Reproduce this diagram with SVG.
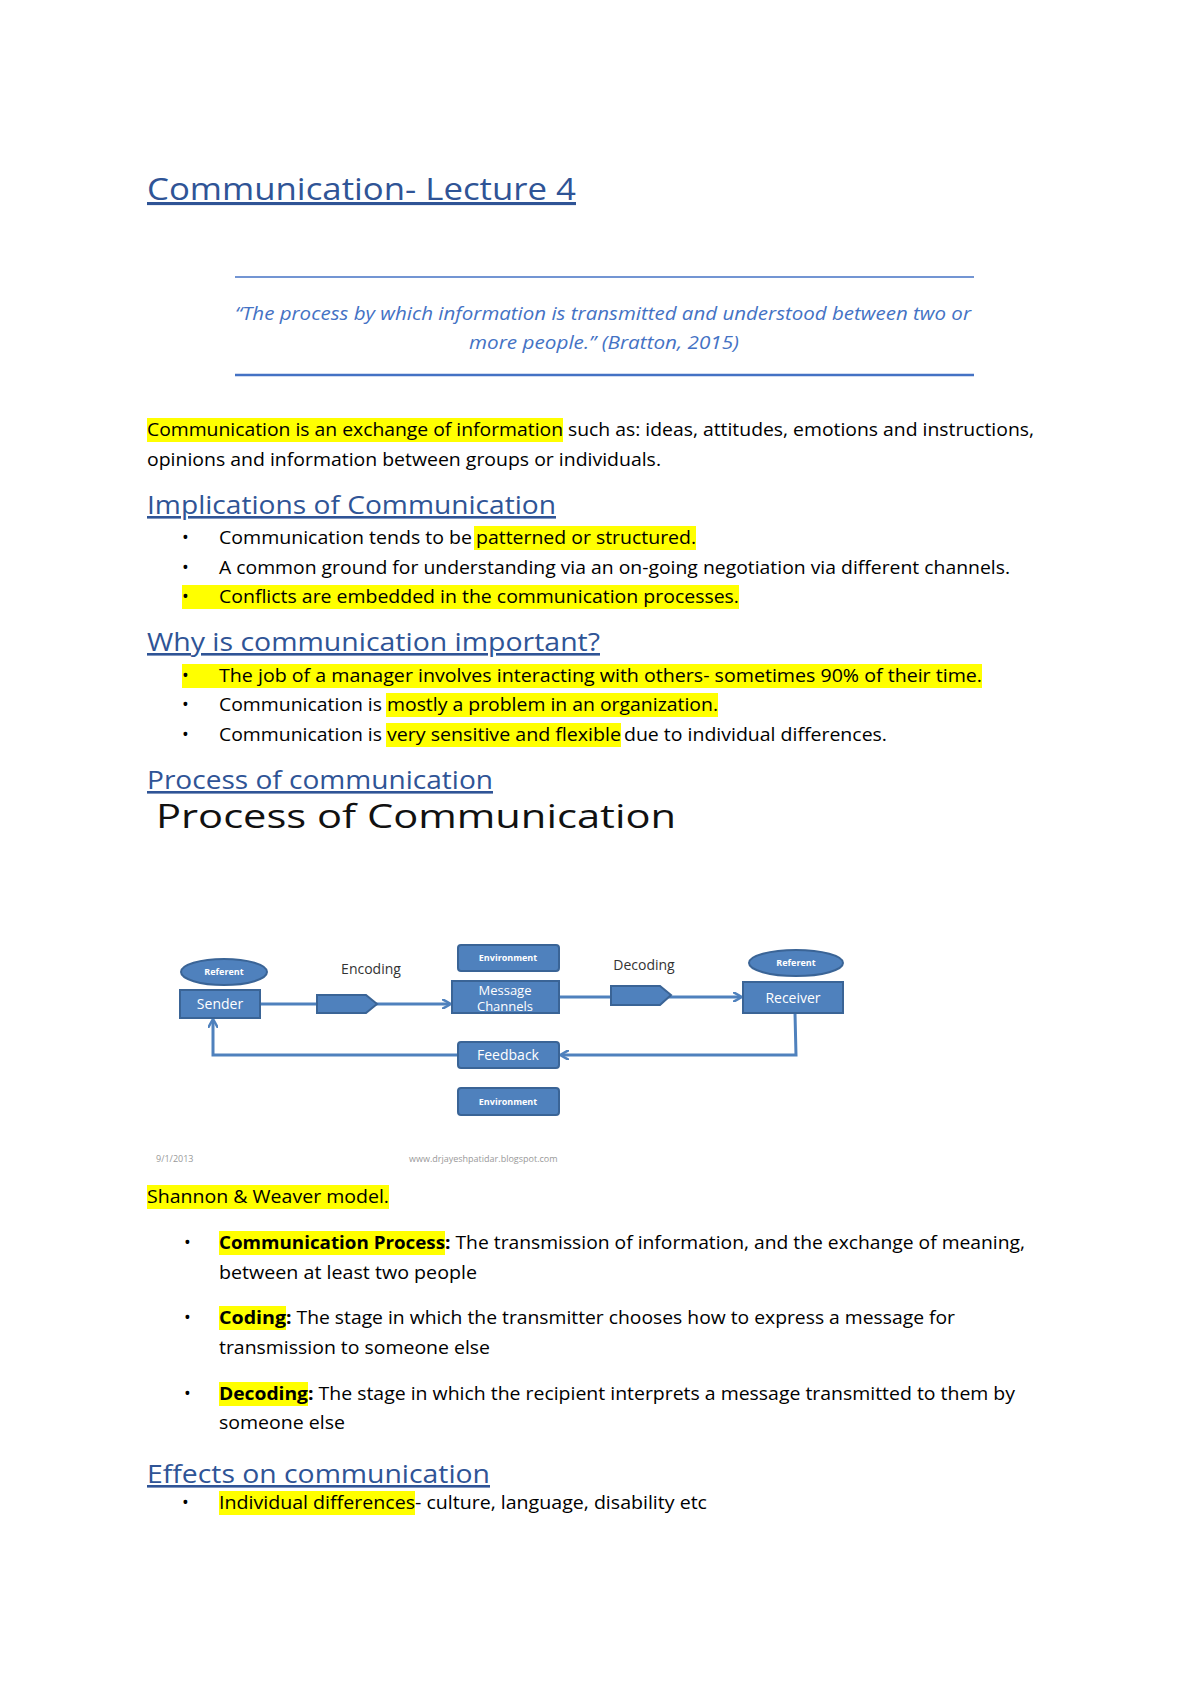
<svg xmlns="http://www.w3.org/2000/svg" width="1200" height="1698" viewBox="0 0 1200 1698">
<style>
text{font-family:"Open Sans","Liberation Sans",sans-serif;}
.b{font-size:18px;fill:#000;}
.h{font-size:26px;fill:#2F5496;text-decoration:underline;}
.q{font-size:18px;fill:#4472C4;font-style:italic;}
.hl{fill:#FFFF00;}
.bx{fill:#4F81BD;stroke:#3A6496;stroke-width:2;}
.bt{fill:#fff;font-size:14px;text-anchor:middle;}
.st{fill:#fff;font-size:9px;font-weight:bold;text-anchor:middle;}
.cn{stroke:#4F81BD;stroke-width:3;fill:none;}
.lbl{font-size:14px;fill:#333;text-anchor:middle;}
</style>
<defs>
<marker id="ah" markerWidth="10" markerHeight="10" refX="8" refY="5" orient="auto" markerUnits="userSpaceOnUse"><path d="M0,0 L9,5 L0,10" fill="none" stroke="#4F81BD" stroke-width="2.5"/></marker>
</defs>
<rect width="1200" height="1698" fill="#fff"/>

<g id="doc-title"><text x="147" y="200" style="font-size:31px;fill:#2F5496;text-decoration:underline" textLength="429" lengthAdjust="spacingAndGlyphs">Communication- Lecture 4</text></g>

<g id="quote">
<line x1="235" y1="277" x2="974" y2="277" stroke="#4472C4" stroke-width="1.5"/>
<text class="q" x="235" y="320" textLength="736" lengthAdjust="spacingAndGlyphs">“The process by which information is transmitted and understood between two or</text>
<text class="q" x="469" y="349" textLength="270" lengthAdjust="spacingAndGlyphs">more people.” (Bratton, 2015)</text>
<line x1="235" y1="375" x2="974" y2="375" stroke="#4472C4" stroke-width="2.5"/>
</g>

<g id="intro">
<rect class="hl" x="147" y="418" width="416" height="24"/>
<text class="b" x="147" y="436" textLength="416" lengthAdjust="spacingAndGlyphs">Communication is an exchange of information</text>
<text class="b" x="568" y="436" textLength="466" lengthAdjust="spacingAndGlyphs">such as: ideas, attitudes, emotions and instructions,</text>
<text class="b" x="147" y="466" textLength="514" lengthAdjust="spacingAndGlyphs">opinions and information between groups or individuals.</text>
</g>

<g id="implications">
<text class="h" x="147" y="514" textLength="409" lengthAdjust="spacingAndGlyphs">Implications of Communication</text>
<text class="b" x="182" y="544">•</text>
<text class="b" x="219" y="544" textLength="253" lengthAdjust="spacingAndGlyphs">Communication tends to be</text>
<rect class="hl" x="474" y="526" width="222" height="24"/>
<text class="b" x="476" y="544" textLength="220" lengthAdjust="spacingAndGlyphs">patterned or structured.</text>
<text class="b" x="182" y="574">•</text>
<text class="b" x="219" y="574" textLength="791" lengthAdjust="spacingAndGlyphs">A common ground for understanding via an on-going negotiation via different channels.</text>
<rect class="hl" x="182" y="585" width="557" height="24"/>
<text class="b" x="182" y="603">•</text>
<text class="b" x="219" y="603" textLength="520" lengthAdjust="spacingAndGlyphs">Conflicts are embedded in the communication processes.</text>
</g>

<g id="why">
<text class="h" x="147" y="651" textLength="453" lengthAdjust="spacingAndGlyphs">Why is communication important?</text>
<rect class="hl" x="182" y="664" width="800" height="24"/>
<text class="b" x="182" y="682">•</text>
<text class="b" x="219" y="682" textLength="763" lengthAdjust="spacingAndGlyphs">The job of a manager involves interacting with others- sometimes 90% of their time.</text>
<text class="b" x="182" y="711">•</text>
<text class="b" x="219" y="711" textLength="163" lengthAdjust="spacingAndGlyphs">Communication is</text>
<rect class="hl" x="386" y="693" width="332" height="24"/>
<text class="b" x="387" y="711" textLength="331" lengthAdjust="spacingAndGlyphs">mostly a problem in an organization.</text>
<text class="b" x="182" y="741">•</text>
<text class="b" x="219" y="741" textLength="163" lengthAdjust="spacingAndGlyphs">Communication is</text>
<rect class="hl" x="386" y="723" width="235" height="24"/>
<text class="b" x="387" y="741" textLength="234" lengthAdjust="spacingAndGlyphs">very sensitive and flexible</text>
<text class="b" x="624" y="741" textLength="263" lengthAdjust="spacingAndGlyphs">due to individual differences.</text>
</g>

<g id="process-heading">
<text class="h" x="147" y="789" textLength="346" lengthAdjust="spacingAndGlyphs">Process of communication</text>
<text x="156" y="828" style="font-size:32px;fill:#111;font-weight:500" textLength="520" lengthAdjust="spacingAndGlyphs">Process of Communication</text>
</g>

<g id="connectors">
<line class="cn" x1="260" y1="1004" x2="450" y2="1004" marker-end="url(#ah)"/>
<line class="cn" x1="559" y1="997" x2="741" y2="997" marker-end="url(#ah)"/>
<polyline class="cn" points="795,1013 796,1055 561,1055" marker-end="url(#ah)"/>
<polyline class="cn" points="458,1055 213,1055 213,1020" marker-end="url(#ah)"/>
</g>

<g id="referent-left"><ellipse class="bx" cx="224" cy="972" rx="43" ry="13"/><text class="st" x="224" y="975">Referent</text></g>
<g id="sender"><rect class="bx" x="180" y="990" width="80" height="28"/><text class="bt" x="220" y="1009">Sender</text></g>
<g id="encoding"><text class="lbl" x="371" y="974">Encoding</text><polygon class="bx" points="317,995 366,995 377,1004 366,1013 317,1013"/></g>
<g id="env-top"><rect class="bx" x="458" y="945" width="101" height="26" rx="3"/><text class="st" x="508" y="961">Environment</text></g>
<g id="message"><rect class="bx" x="452" y="981" width="107" height="32"/><text class="bt" x="505" y="995" style="font-size:13px">Message</text><text class="bt" x="505" y="1011" style="font-size:13px">Channels</text></g>
<g id="decoding"><text class="lbl" x="644" y="970">Decoding</text><polygon class="bx" points="611,986 660,986 671,995 660,1005 611,1005"/></g>
<g id="referent-right"><ellipse class="bx" cx="796" cy="963" rx="47" ry="13"/><text class="st" x="796" y="966">Referent</text></g>
<g id="receiver"><rect class="bx" x="743" y="982" width="100" height="31"/><text class="bt" x="793" y="1003">Receiver</text></g>
<g id="feedback"><rect class="bx" x="458" y="1042" width="101" height="26" rx="3"/><text class="bt" x="508" y="1060">Feedback</text></g>
<g id="env-bottom"><rect class="bx" x="458" y="1088" width="101" height="27" rx="3"/><text class="st" x="508" y="1105">Environment</text></g>
<g id="footer"><text x="156" y="1162" style="font-size:9px;fill:#999">9/1/2013</text><text x="409" y="1162" style="font-size:9px;fill:#999">www.drjayeshpatidar.blogspot.com</text></g>

<g id="shannon">
<rect class="hl" x="147" y="1185" width="242" height="24"/>
<text class="b" x="147" y="1203" textLength="242" lengthAdjust="spacingAndGlyphs">Shannon &amp; Weaver model.</text>
<text class="b" x="184" y="1249">•</text>
<rect class="hl" x="219" y="1231" width="226" height="24"/>
<text class="b" x="219" y="1249" style="font-weight:bold" textLength="226" lengthAdjust="spacingAndGlyphs">Communication Process</text>
<text class="b" x="445" y="1249" textLength="580" lengthAdjust="spacingAndGlyphs"><tspan font-weight="bold">:</tspan> The transmission of information, and the exchange of meaning,</text>
<text class="b" x="219" y="1279" textLength="258" lengthAdjust="spacingAndGlyphs">between at least two people</text>
<text class="b" x="184" y="1324">•</text>
<rect class="hl" x="219" y="1306" width="67" height="24"/>
<text class="b" x="219" y="1324" style="font-weight:bold" textLength="67" lengthAdjust="spacingAndGlyphs">Coding</text>
<text class="b" x="286" y="1324" textLength="669" lengthAdjust="spacingAndGlyphs"><tspan font-weight="bold">:</tspan> The stage in which the transmitter chooses how to express a message for</text>
<text class="b" x="219" y="1354" textLength="271" lengthAdjust="spacingAndGlyphs">transmission to someone else</text>
<text class="b" x="184" y="1400">•</text>
<rect class="hl" x="219" y="1382" width="89" height="24"/>
<text class="b" x="219" y="1400" style="font-weight:bold" textLength="89" lengthAdjust="spacingAndGlyphs">Decoding</text>
<text class="b" x="308" y="1400" textLength="707" lengthAdjust="spacingAndGlyphs"><tspan font-weight="bold">:</tspan> The stage in which the recipient interprets a message transmitted to them by</text>
<text class="b" x="219" y="1429" textLength="126" lengthAdjust="spacingAndGlyphs">someone else</text>
</g>

<g id="effects">
<text class="h" x="147" y="1483" textLength="343" lengthAdjust="spacingAndGlyphs">Effects on communication</text>
<text class="b" x="182" y="1509">•</text>
<rect class="hl" x="219" y="1491" width="196" height="24"/>
<text class="b" x="219" y="1509" textLength="196" lengthAdjust="spacingAndGlyphs">Individual differences</text>
<text class="b" x="415" y="1509" textLength="292" lengthAdjust="spacingAndGlyphs">- culture, language, disability etc</text>
</g>
</svg>
